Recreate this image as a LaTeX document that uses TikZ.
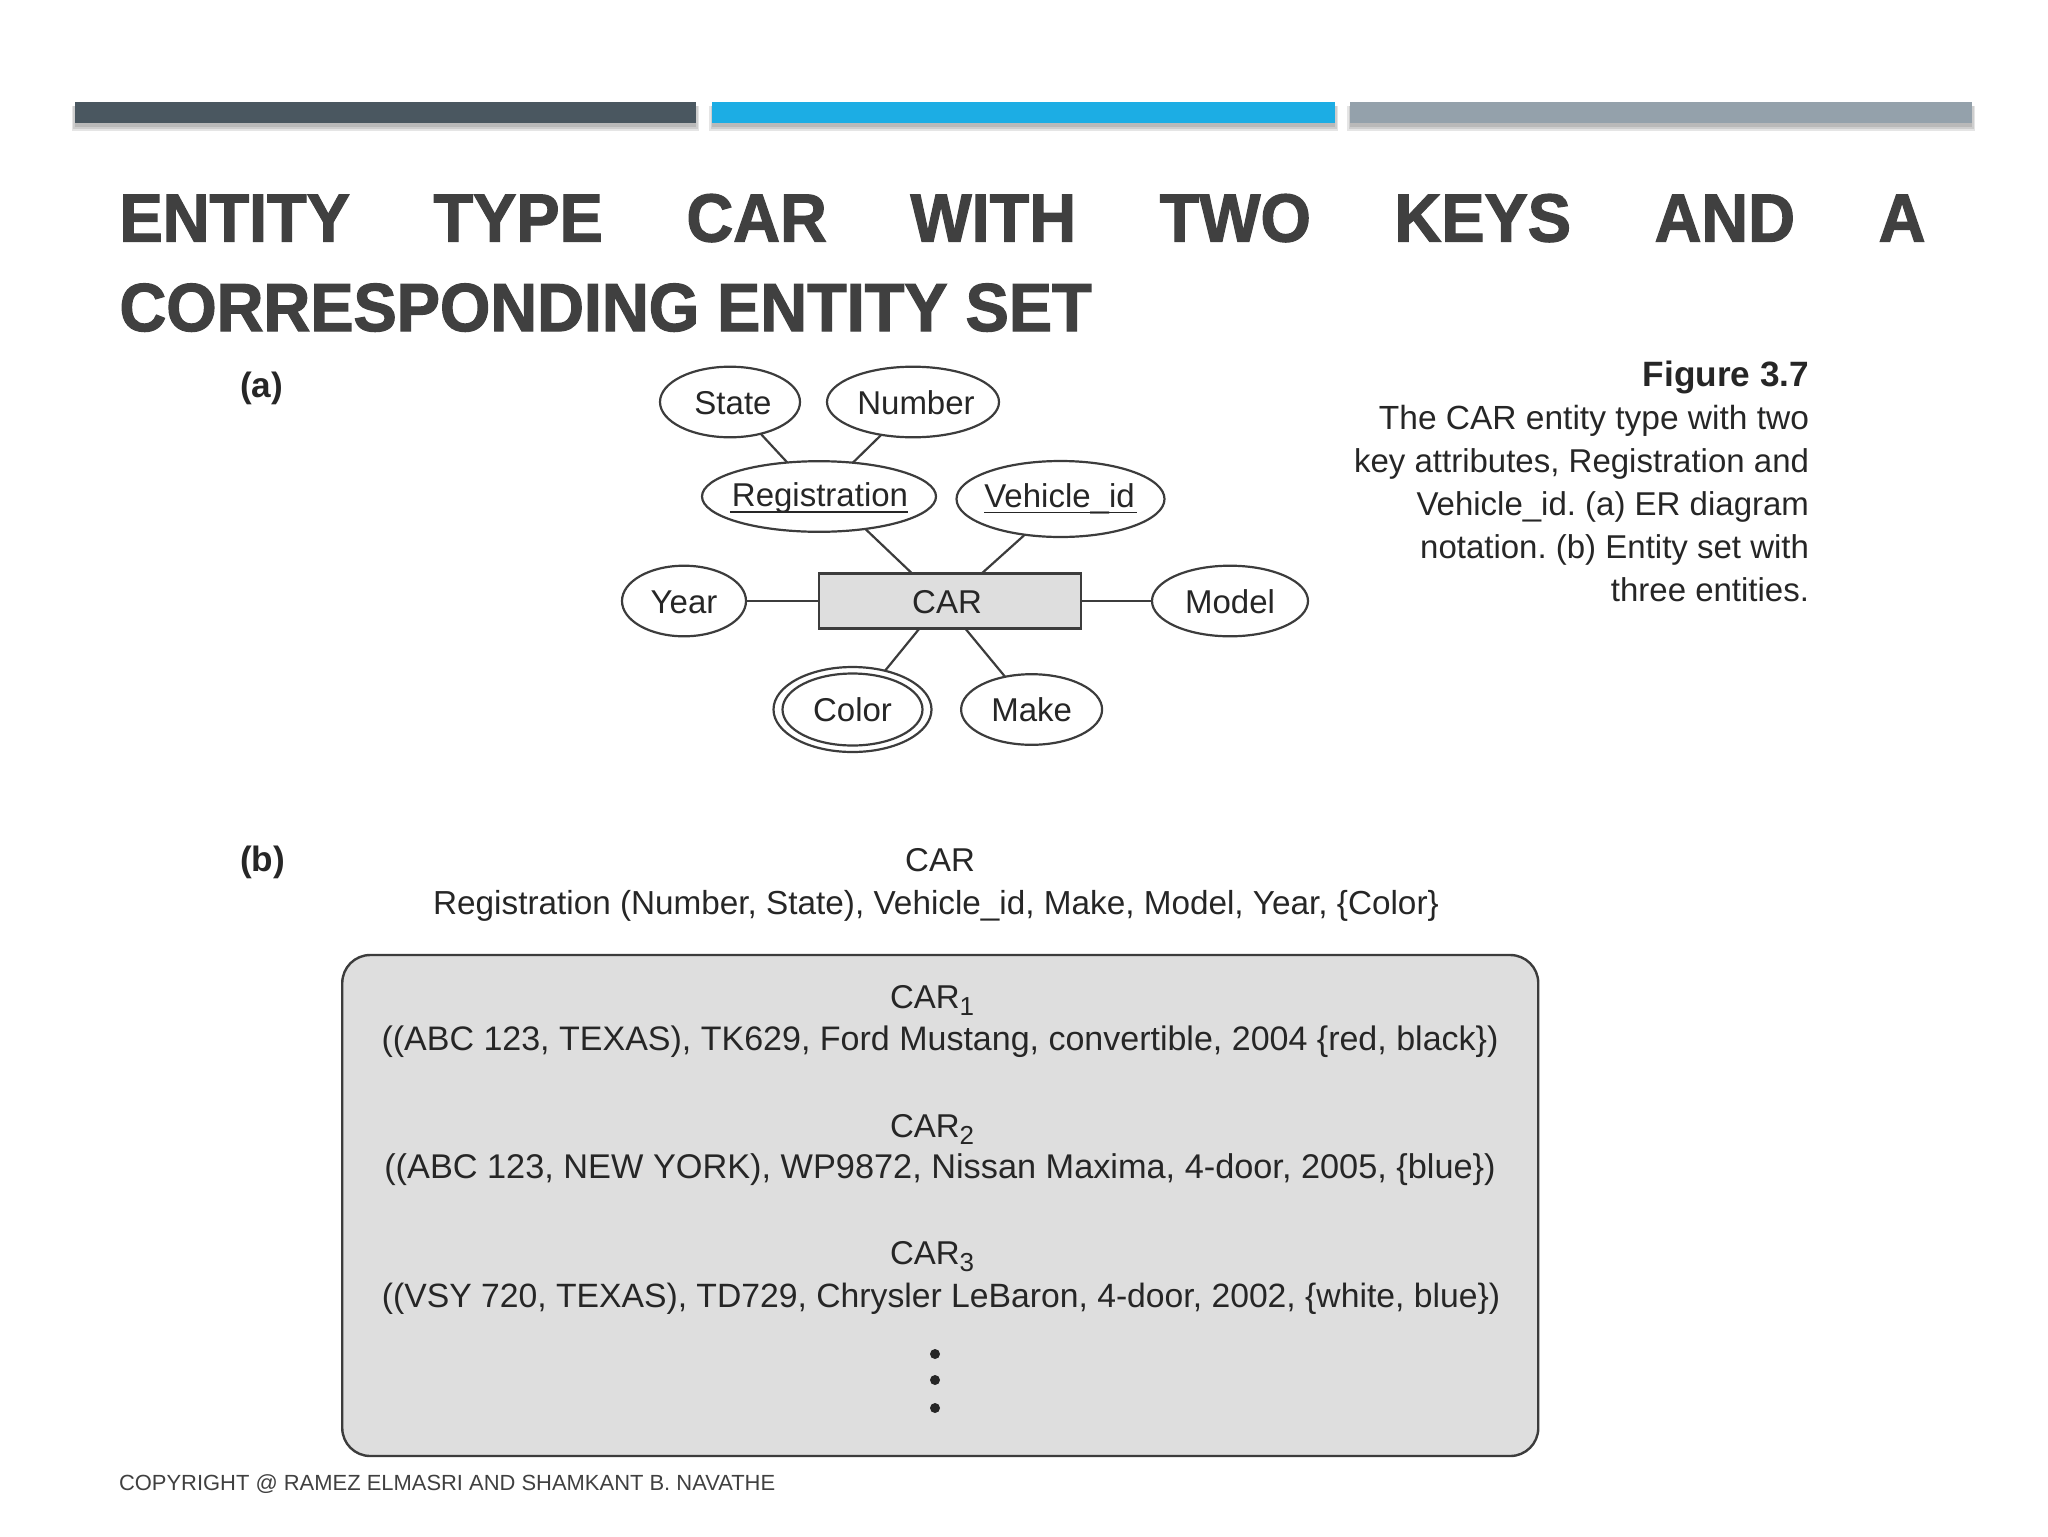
\documentclass[tikz,border=0pt]{standalone}
\usepackage{fontspec}
\usetikzlibrary{shapes.geometric}
\setmainfont{Liberation Sans}
\newfontfamily\titlefont[UprightFont=* Bold,FakeStretch=0.953,FakeBold=1.8]{Liberation Sans}
\definecolor{titlegray}{HTML}{404040}
\definecolor{barDark}{HTML}{4A5760}
\definecolor{barBlue}{HTML}{1CADE4}
\definecolor{barGray}{HTML}{94A1AB}
\definecolor{inkline}{HTML}{3C3C3C}
\definecolor{inktext}{HTML}{262626}
\definecolor{boxfill}{HTML}{DEDEDE}
\newcommand\ctrtxt[1]{\makebox[0pt]{#1}}
\newcommand\keytxt[1]{\setbox0\hbox{#1}\makebox[0pt]{\rlap{\rule[-3.2pt]{\wd0}{0.9pt}}\box0}}
\newcommand\subnum[1]{\raisebox{-3.6pt}{\fontsize{13}{13}\selectfont #1}}
\tikzset{
  attr/.style n args={2}{ellipse,draw=inkline,line width=1.1pt,fill=white,inner sep=0pt,outer sep=0pt,
    minimum width=#1*1pt,minimum height=#2*1pt,text=inktext,font=\fontsize{16.5}{18}\selectfont,
    text height=12pt,text depth=0pt},
  entityrect/.style={rectangle,draw=inkline,line width=1.1pt,fill=boxfill,inner sep=0pt,outer sep=0pt,
    minimum width=131pt,minimum height=27.5pt,text=inktext,font=\fontsize{16.5}{18}\selectfont,
    text height=12pt,text depth=0pt},
  link/.style={draw=inkline,line width=1.1pt},
  body/.style={inner sep=0pt,outer sep=0pt,text=inktext,font=\fontsize{16.5}{18}\selectfont\frenchspacing,anchor=base},
  bodyb/.style={inner sep=0pt,outer sep=0pt,text=inktext,font=\fontsize{17.6}{18}\selectfont\bfseries,anchor=base},
  titleline/.style={inner sep=0pt,outer sep=0pt,text=titlegray,font=\fontsize{34}{40}\titlefont,anchor=base west},
  dotmark/.style={circle,fill=inktext,inner sep=0pt,minimum size=5pt},
  barshadow/.style={fill=black,opacity=.10}
}
\begin{document}
\begin{tikzpicture}[x=0.5pt,y=-0.5pt]
\useasboundingbox (0,0) rectangle (2048,1536);
% top bars
\foreach \xa/\xb in {74.5/696,712/1335,1350/1972}{
  \fill[barshadow] (\xa-3,106) rectangle (\xb+3,131);
  \fill[barshadow] (\xa-1.5,106) rectangle (\xb+1.5,129);
  \fill[barshadow] (\xa,106) rectangle (\xb,127);
}
\fill[barDark] (74.5,102) rectangle (696,123);
\fill[barBlue] (712,102) rectangle (1335,123);
\fill[barGray] (1350,102) rectangle (1972,123);
% title
\node[titleline] (t1) at (119.5,241.5) {\makebox[903pt][s]{ENTITY\hfil TYPE\hfil CAR\hfil WITH\hfil TWO\hfil KEYS\hfil AND\hfil A}};
\node[titleline] (t2) at (119.5,331) {CORRESPONDING ENTITY SET};
% part labels
\node[bodyb,anchor=base west] (la) at (240,397) {(a)};
\node[bodyb,anchor=base west] (lb) at (240,871) {(b)};
% figure caption
\node[bodyb,anchor=base east] (c0) at (1809,386) {Figure 3.7};
\node[body,anchor=base east,font=\fontsize{16.75}{18}\selectfont] (c1) at (1809,429) {The CAR entity type with two};
\node[body,anchor=base east] (c2) at (1809,472) {key attributes, Registration and};
\node[body,anchor=base east] (c3) at (1809,515) {Vehicle\_id. (a) ER diagram};
\node[body,anchor=base east] (c4) at (1809,558) {notation. (b) Entity set with};
\node[body,anchor=base east] (c5) at (1809,601) {three entities.};
% ER diagram
\node[attr={70}{35.3}] (state) at (730,402) {\ctrtxt{\hspace*{3pt}State}};
\node[attr={86}{35.3}] (number) at (913,402) {\ctrtxt{\hspace*{3pt}Number}};
\node[attr={117}{35.3},text depth=2pt] (reg) at (819,496.5) {\keytxt{\hspace*{1pt}Registration}};
\node[attr={104}{38},text depth=4pt] (veh) at (1060.5,499) {\keytxt{Vehicle\_id\hspace*{1pt}}};
\node[entityrect] (car) at (950,601) {\ctrtxt{\hspace*{-3pt}CAR}};
\node[attr={62}{35.3}] (year) at (684,601) {\ctrtxt{Year}};
\node[attr={78}{35.3}] (model) at (1230,601) {\ctrtxt{Model}};
\node[attr={79}{42.5}] (color) at (852.5,709.5) {};
\node[attr={70}{36}] (colorin) at (852.5,709.5) {\ctrtxt{Color}};
\node[attr={70.5}{35.3}] (make) at (1031.6,709.5) {\ctrtxt{Make}};
\draw[link] (state.-46.8) -- (reg.133.2);
\draw[link] (number.-134.4) -- (reg.45);
\draw[link] (reg.-35.7) -- (car.144.3);
\draw[link] (veh.-135.6) -- (car.41.1);
\draw[link] (year) -- (car);
\draw[link] (model) -- (car);
\draw[link] (car.-138.4) -- (color.50);
\draw[link] (car.-61.4) -- (make.129.5);
% part b
\node[body] (hcar) at (940,871) {CAR};
\node[body,font=\fontsize{16.65}{18}\selectfont] (hreg) at (936,914) {Registration (Number, State), Vehicle\_id, Make, Model, Year, \{Color\}};
\node[rectangle,rounded corners=14pt,draw=inkline,line width=1.2pt,fill=boxfill,minimum width=598pt,minimum height=250.5pt,inner sep=0pt] (setbox) at (940.25,1205.5) {};
\node[body,anchor=base west] (e1h) at (890,1008) {CAR\subnum{1}};
\node[body,font=\fontsize{17}{18}\selectfont] (e1) at (940,1050) {((ABC 123, TEXAS), TK629, Ford Mustang, convertible, 2004 \{red, black\})};
\node[body,anchor=base west] (e2h) at (890,1137) {CAR\subnum{2}};
\node[body,font=\fontsize{17.15}{18}\selectfont] (e2) at (940,1178) {((ABC 123, NEW YORK), WP9872, Nissan Maxima, 4-door, 2005, \{blue\})};
\node[body,anchor=base west] (e3h) at (890,1264) {CAR\subnum{3}};
\node[body,font=\fontsize{16.85}{18}\selectfont] (e3) at (941,1307) {((VSY 720, TEXAS), TD729, Chrysler LeBaron, 4-door, 2002, \{white, blue\})};
\node[dotmark] (d1) at (935,1354) {};
\node[dotmark] (d2) at (935,1380) {};
\node[dotmark] (d3) at (935,1408) {};
% footer
\node[inner sep=0pt,outer sep=0pt,anchor=base west,text=titlegray,font=\fontsize{10.97}{13}\selectfont] (foot) at (119,1490) {COPYRIGHT @ RAMEZ ELMASRI AND SHAMKANT B. NAVATHE};
\end{tikzpicture}
\end{document}
